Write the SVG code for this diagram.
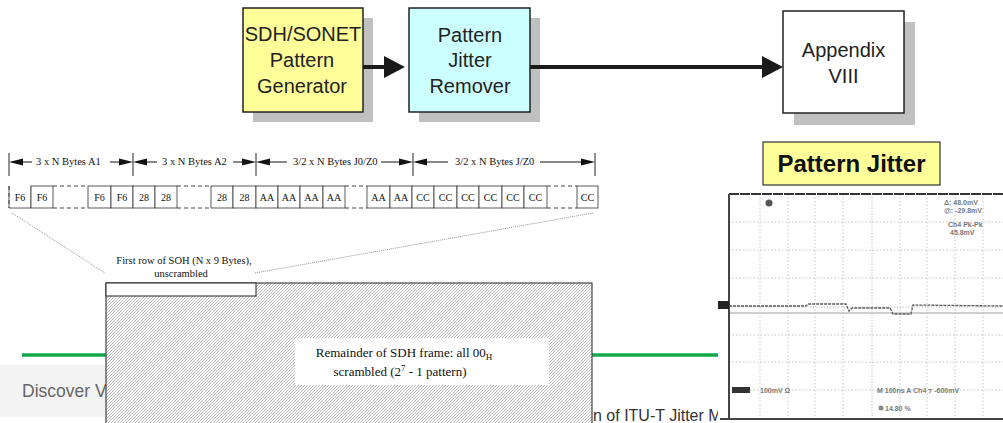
<svg xmlns="http://www.w3.org/2000/svg" width="1003" height="423" viewBox="0 0 1003 423">
<style>
.blk{stroke:#222;stroke-width:1.5}
.shadow{fill:#c0c0c0}
.bt{font-family:"Liberation Sans",Arial,sans-serif;font-size:20px;fill:#222;text-anchor:middle}
.tm{font-family:"Liberation Serif","Times New Roman",serif;fill:#111}
.lab{font-size:10.5px}
.byte{fill:#fff;stroke:#333;stroke-width:0.8}
.bytet{font-size:10px;text-anchor:middle}
.gap{stroke:#333;stroke-width:0.9;stroke-dasharray:4 3;fill:none}
.tick{stroke:#111;stroke-width:0.9}
.sa{stroke:#111;stroke-width:1;fill:none;marker-end:url(#sh)}
.big{stroke:#1a1a1a;stroke-width:4;fill:none;marker-end:url(#bh)}
.dot{stroke:#777;stroke-width:0.8;stroke-dasharray:1 1;fill:none}
.grid{stroke:#b8b8b8;stroke-width:0.8;stroke-dasharray:1.5 2;fill:none}
.scr{font-family:"Liberation Sans",Arial,sans-serif;font-size:7px;fill:#7a7a7a;font-weight:bold}
.green{stroke:#14a84a;stroke-width:3.5}
</style>
<defs>
<marker id="bh" markerUnits="userSpaceOnUse" markerWidth="22" markerHeight="23" refX="0" refY="11" orient="auto" overflow="visible"><path d="M0,0 L21,11 L0,22 Z" fill="#1a1a1a"/></marker>
<marker id="sh" markerUnits="userSpaceOnUse" markerWidth="15" markerHeight="8" refX="0" refY="3.5" orient="auto" overflow="visible"><path d="M0,0 L14,3.5 L0,7 Z" fill="#111"/></marker>
<pattern id="hatch" patternUnits="userSpaceOnUse" width="3" height="3"><rect width="3" height="3" fill="#fff"/><path d="M-1,1 L1,-1 M0,3 L3,0 M2,4 L4,2" stroke="#999" stroke-width="0.7"/></pattern>
</defs>

<g id="background-page">
<line class="green" x1="22" y1="355" x2="106" y2="355"/>
<line class="green" x1="592" y1="355" x2="718" y2="355"/>
<rect x="0" y="365" width="106" height="52" fill="#f3f3f3"/>
<text x="22" y="397" font-family="Liberation Sans, Arial, sans-serif" font-size="17.5" fill="#666">Discover V</text>
<text x="593" y="421" font-family="Liberation Sans, Arial, sans-serif" font-size="16" fill="#333">n of ITU-T Jitter M</text>
</g>

<g id="gen">
<rect class="shadow" x="253" y="18" width="120" height="104"/>
<rect class="blk" x="243" y="8" width="120" height="104" fill="#ffff99"/>
<text class="bt" x="303" y="41">SDH/SONET</text>
<text class="bt" x="302" y="67">Pattern</text>
<text class="bt" x="302" y="93">Generator</text>
</g>
<g id="remover">
<rect class="shadow" x="419" y="18" width="121" height="104"/>
<rect class="blk" x="409" y="8" width="121" height="104" fill="#ccffff"/>
<text class="bt" x="470" y="42">Pattern</text>
<text class="bt" x="470" y="67">Jitter</text>
<text class="bt" x="470" y="93">Remover</text>
</g>
<g id="appendix">
<rect class="shadow" x="794" y="22" width="121" height="103"/>
<rect class="blk" x="783" y="11" width="121" height="102" fill="#fff"/>
<text class="bt" x="843.5" y="57">Appendix</text>
<text class="bt" x="843.5" y="83">VIII</text>
</g>

<g id="bytes" class="tm">
<rect class="byte" x="9" y="186" width="22" height="22" stroke-dasharray="0 22 66"/>
<line class="gap" x1="9" y1="186" x2="9" y2="208" stroke-dasharray="3 2"/>
<rect class="byte" x="31" y="186" width="22" height="22"/>
<path class="gap" d="M53,186 H88 M53,208 H88"/>
<rect class="byte" x="88" y="186" width="23" height="22"/>
<rect class="byte" x="111" y="186" width="22" height="22"/>
<rect class="byte" x="133" y="186" width="22" height="22"/>
<rect class="byte" x="155" y="186" width="22" height="22"/>
<path class="gap" d="M177,186 H211 M177,208 H211"/>
<rect class="byte" x="211" y="186" width="22" height="22"/>
<rect class="byte" x="233" y="186" width="23" height="22"/>
<rect class="byte" x="256" y="186" width="22" height="22"/>
<rect class="byte" x="278" y="186" width="22" height="22"/>
<rect class="byte" x="300" y="186" width="23" height="22"/>
<rect class="byte" x="323" y="186" width="22" height="22"/>
<path class="gap" d="M345,186 H367 M345,208 H367"/>
<rect class="byte" x="367" y="186" width="23" height="22"/>
<rect class="byte" x="390" y="186" width="22" height="22"/>
<rect class="byte" x="412" y="186" width="22" height="22"/>
<rect class="byte" x="434" y="186" width="23" height="22"/>
<rect class="byte" x="457" y="186" width="22" height="22"/>
<rect class="byte" x="479" y="186" width="23" height="22"/>
<rect class="byte" x="502" y="186" width="22" height="22"/>
<rect class="byte" x="524" y="186" width="23" height="22"/>
<path class="gap" d="M547,186 H577 M547,208 H577"/>
<rect class="byte" x="577" y="186" width="21" height="22"/>
<g class="bytet">
<text x="20" y="201">F6</text><text x="42" y="201">F6</text>
<text x="99.5" y="201">F6</text><text x="122" y="201">F6</text>
<text x="144" y="201">28</text><text x="166" y="201">28</text>
<text x="222" y="201">28</text><text x="244.5" y="201">28</text>
<text x="267" y="201">AA</text><text x="289" y="201">AA</text>
<text x="311.5" y="201">AA</text><text x="334" y="201">AA</text>
<text x="378.5" y="201">AA</text><text x="401" y="201">AA</text>
<text x="423" y="201">CC</text><text x="445.5" y="201">CC</text>
<text x="468" y="201">CC</text><text x="490.5" y="201">CC</text>
<text x="513" y="201">CC</text><text x="535.5" y="201">CC</text>
<text x="587.5" y="201">CC</text>
</g>
<g class="lab">
<text x="36" y="165">3 x N Bytes A1</text>
<text x="162" y="165">3 x N Bytes A2</text>
<text x="293" y="165">3/2 x N Bytes J0/Z0</text>
<text x="455" y="165">3/2 x N Bytes J/Z0</text>
</g>
</g>

<g id="sdh-frame">
<rect x="106" y="283" width="486" height="150" fill="url(#hatch)" stroke="#444" stroke-width="1.2"/>
<rect x="106" y="283" width="150" height="13" fill="#fff" stroke="#222" stroke-width="1"/>
<rect x="295" y="338" width="254" height="47" fill="#fff"/>
<text class="tm" x="404" y="357" font-size="13" text-anchor="middle">Remainder of SDH frame: all 00<tspan font-size="9" dy="3">H</tspan></text>
<text class="tm" x="400" y="376" font-size="13" text-anchor="middle">scrambled (2<tspan font-size="9" dy="-5">7</tspan><tspan dy="5"> - 1 pattern)</tspan></text>
<text class="tm" x="184" y="264" font-size="10.5" text-anchor="middle">First row of SOH (N x 9 Bytes),</text>
<text class="tm" x="181" y="277" font-size="10.5" text-anchor="middle">unscrambled</text>
</g>

<g id="connectors">
<line class="big" x1="363" y1="67" x2="384" y2="67"/>
<line class="big" x1="530" y1="67" x2="762" y2="67"/>
<g class="tick">
<line x1="9" y1="153" x2="9" y2="176"/>
<line x1="133" y1="153" x2="133" y2="176"/>
<line x1="256" y1="153" x2="256" y2="176"/>
<line x1="413" y1="153" x2="413" y2="176"/>
<line x1="595" y1="153" x2="595" y2="176"/>
</g>
<line class="sa" x1="32" y1="162" x2="23" y2="162"/>
<line class="sa" x1="110" y1="162" x2="119" y2="162"/>
<line class="sa" x1="157" y1="162" x2="147" y2="162"/>
<line class="sa" x1="233" y1="162" x2="242" y2="162"/>
<line class="sa" x1="287" y1="162" x2="270" y2="162"/>
<line class="sa" x1="381" y1="162" x2="399" y2="162"/>
<line class="sa" x1="448" y1="162" x2="427" y2="162"/>
<line class="sa" x1="540" y1="162" x2="581" y2="162"/>
<line class="dot" x1="12" y1="213" x2="105" y2="273"/>
<line class="dot" x1="255" y1="273" x2="593" y2="213"/>
</g>

<g id="pattern-jitter-title">
<rect x="763" y="142" width="177" height="43" fill="#ffff99" stroke="#333" stroke-width="1.2"/>
<text x="851.5" y="172" font-family="Liberation Sans, Arial, sans-serif" font-size="24" font-weight="bold" fill="#111" text-anchor="middle">Pattern Jitter</text>
</g>

<g id="scope">
<rect x="718" y="190" width="285" height="233" fill="#fff"/>
<path class="grid" d="M760,194 V419 M788,194 V419 M815,194 V419 M843,194 V419 M900,194 V419 M927,194 V419 M955,194 V419 M983,194 V419 M729,222 H1003 M729,250 H1003 M729,278 H1003 M729,335 H1003 M729,362 H1003 M729,390 H1003"/>
<path d="M872,194 V419 M729,307 H1003" stroke="#aaa" stroke-width="1" stroke-dasharray="1 1.8" fill="none"/>
<line x1="729" y1="313" x2="1003" y2="313" stroke="#cfcfcf" stroke-width="2"/>
<polyline points="729,306 806,306 808,304 846,304 849,311 852,308 890,308 893,314 911,314 913,305 1003,306" fill="none" stroke="#5a5a5a" stroke-width="1.3" stroke-dasharray="3 1"/>
<path d="M729,194 H1003" stroke="#333" stroke-width="2" stroke-dasharray="10 1"/>
<path d="M729,194 V419 M720,419 H1003" stroke="#444" stroke-width="2"/>
<rect x="718" y="301" width="11" height="8" fill="#222"/>
<circle cx="769" cy="203" r="3.5" fill="#555"/>
<text class="scr" x="944" y="205">Δ: 48.0mV</text>
<text class="scr" x="944" y="213">@: -29.8mV</text>
<text class="scr" x="948" y="227">Ch4 Pk-Pk</text>
<text class="scr" x="950" y="235">45.8mV</text>
<rect x="732" y="387" width="18" height="6" fill="#333"/>
<text class="scr" x="760" y="393">100mV Ω</text>
<text class="scr" x="877" y="393">M 100ns  A  Ch4  ⁊  -600mV</text>
<circle cx="881" cy="408" r="2.5" fill="#888"/>
<text class="scr" x="885" y="411">14.80 %</text>
</g>
</svg>
